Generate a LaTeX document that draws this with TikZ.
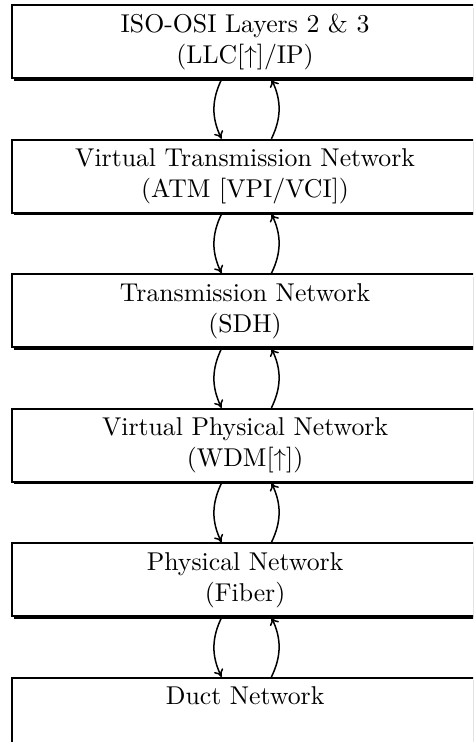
\documentclass[tikz,border=0pt]{standalone}
\usetikzlibrary{positioning,shadows,arrows.meta}

\tikzset{
  layer/.style={draw, line width=0.8pt, fill=white,
    drop shadow={shadow xshift=0.9pt, shadow yshift=-1pt, fill=black, opacity=1},
    font=\fontsize{10.3}{12.4}\selectfont,
    minimum width=6.55cm, minimum height=1.027cm, align=center},
  link/.style={-{To[length=3pt,width=4pt]}, line width=0.6pt},
}

\begin{document}
\begin{tikzpicture}[node distance=0.836cm]
  \useasboundingbox (0,0) rectangle (6.65,-10.43);
  \clip (0,0) rectangle (6.65,-10.43);
  % Layers, top to bottom
  \node[layer, anchor=north] (llc) at (3.445,-0.06)
    {ISO-OSI Layers 2 \& 3\\(LLC[$\uparrow$]/IP)};
  \node[layer, below=of llc] (vtn)
    {Virtual Transmission Network\\(ATM [VPI/VCI])};
  \node[layer, below=of vtn] (sdh)
    {Transmission Network\\(SDH)};
  \node[layer, below=of sdh] (wdm)
    {Virtual Physical Network\\(WDM[$\uparrow$])};
  \node[layer, below=of wdm] (fiber)
    {Physical Network\\(Fiber)};
  \node[layer, below=of fiber, text depth=15pt] (duct)
    {Duct Network};
  % Links between layers (down on the left, up on the right)
  \draw[link] ([xshift=-0.33cm]llc.south) to[bend right=26] ([xshift=-0.33cm]vtn.north);
  \draw[link] ([xshift=0.37cm]vtn.north) to[bend right=26] ([xshift=0.37cm]llc.south);
  \draw[link] ([xshift=-0.33cm]vtn.south) to[bend right=26] ([xshift=-0.33cm]sdh.north);
  \draw[link] ([xshift=0.37cm]sdh.north) to[bend right=26] ([xshift=0.37cm]vtn.south);
  \draw[link] ([xshift=-0.33cm]sdh.south) to[bend right=26] ([xshift=-0.33cm]wdm.north);
  \draw[link] ([xshift=0.37cm]wdm.north) to[bend right=26] ([xshift=0.37cm]sdh.south);
  \draw[link] ([xshift=-0.33cm]wdm.south) to[bend right=26] ([xshift=-0.33cm]fiber.north);
  \draw[link] ([xshift=0.37cm]fiber.north) to[bend right=26] ([xshift=0.37cm]wdm.south);
  \draw[link] ([xshift=-0.33cm]fiber.south) to[bend right=26] ([xshift=-0.33cm]duct.north);
  \draw[link] ([xshift=0.37cm]duct.north) to[bend right=26] ([xshift=0.37cm]fiber.south);
\end{tikzpicture}
\end{document}
